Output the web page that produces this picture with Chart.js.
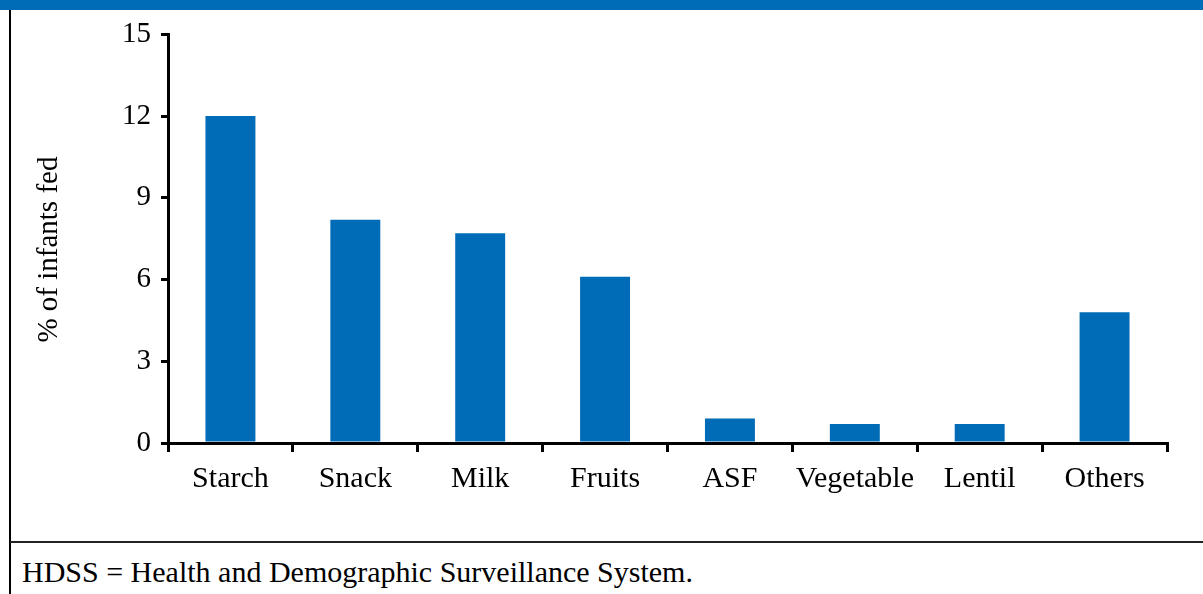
<!DOCTYPE html>
<html>
<head>
<meta charset="utf-8">
<script src="https://cdn.jsdelivr.net/npm/chart.js@4/dist/chart.umd.min.js"></script>
<style>
  body { margin: 0; width: 1203px; height: 594px; background: #fff; position: relative; overflow: hidden; font-family: "Liberation Serif", serif; }
  #band { position: absolute; left: 0; top: 0; width: 1203px; height: 10px; background: #006BB6; }
  #leftRule { position: absolute; left: 9px; top: 10px; width: 2px; height: 584px; background: #000; }
  #sep { position: absolute; left: 10px; top: 541px; width: 1193px; height: 2px; background: #222; }
  #note { position: absolute; left: 22px; top: 555px; font-size: 30px; line-height: 34px; color: #000; white-space: nowrap; }
  #wrap { position: absolute; left: 12px; top: 7px; width: 1191px; height: 533px; }
</style>
</head>
<body>
<div id="band"></div>
<div id="leftRule"></div>
<div id="wrap"><canvas id="chart"></canvas></div>
<div id="sep"></div>
<div id="note">HDSS = Health and Demographic Surveillance System.</div>
<script>
const categories = ["Starch", "Snack", "Milk", "Fruits", "ASF", "Vegetable", "Lentil", "Others"];
const infantsFed = [12.0, 8.2, 7.7, 6.1, 0.9, 0.7, 0.7, 4.8];
const yTicks = [0, 3, 6, 9, 12, 15];

const labelFont = { family: "Liberation Serif", size: 30 };
const tickFont = { family: "Liberation Serif", size: 29 };

new Chart(document.getElementById("chart"), {
	type: "bar",
	data: {
		labels: categories,
		datasets: [
			{
				label: "% of infants fed",
				data: infantsFed,
				backgroundColor: "#006BB6",
				borderWidth: 0,
				barPercentage: 0.4,
				categoryPercentage: 1,
			},
		],
	},
	options: {
		responsive: true,
		maintainAspectRatio: false,
		animation: false,
		layout: { padding: { top: 22, right: 36, left: 0, bottom: 0 } },
		plugins: {
			legend: { display: false },
			tooltip: { enabled: false },
		},
		scales: {
			x: {
				grid: {
					offset: true,
					drawOnChartArea: false,
					drawTicks: true,
					tickLength: 9,
					color: "#000",
					lineWidth: 3,
				},
				border: { display: true, color: "#000", width: 3 },
				ticks: { font: labelFont, color: "#000", padding: 9, maxRotation: 0 },
				afterFit: (scale) => { scale.height = 97; },
			},
			y: {
				min: 0,
				max: 15,
				afterBuildTicks: (scale) => {
					scale.ticks = yTicks.map((v) => ({ value: v }));
				},
				grid: {
					drawOnChartArea: false,
					drawTicks: true,
					tickLength: 7,
					color: "#000",
					lineWidth: 3,
				},
				border: { display: true, color: "#000", width: 3 },
				ticks: { font: tickFont, color: "#000", padding: 10 },
				title: {
					display: true,
					// trailing spaces nudge the rotated title down a little
					text: "% of infants fed\u00a0\u00a0\u00a0",
					font: { family: "Liberation Serif", size: 29 },
					color: "#000",
					padding: { top: 20, bottom: 0 },
				},
				afterFit: (scale) => { scale.width = 156; },
			},
		},
	},
});
</script>
</body>
</html>
